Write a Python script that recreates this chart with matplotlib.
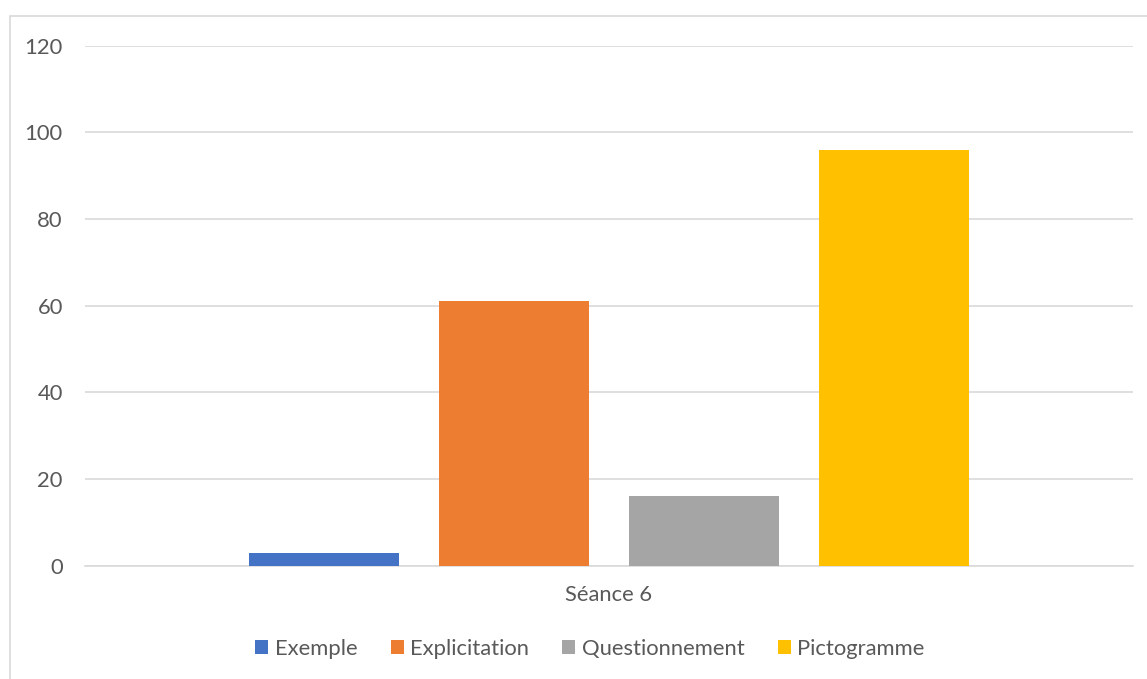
import matplotlib.pyplot as plt
import numpy as np
from matplotlib.patches import Rectangle

# data
categories = ['Séance 6']
series_names = ['Exemple', 'Explicitation', 'Questionnement', 'Pictogramme']
series_values = [3, 61, 16, 96]
series_colors = ['#4472C4', '#ED7D31', '#A5A5A5', '#FFC000']
y_ticks = [0, 20, 40, 60, 80, 100, 120]

text_color = '#595959'
grid_color = '#D9D9D9'

plt.rcParams['font.family'] = ['Lato', 'DejaVu Sans']

fig = plt.figure(figsize=(11.47, 6.79), dpi=100)
W, H = 1147, 679

# light border of the chart area (runs off the right and bottom edges)
fig.patches.append(Rectangle((9.5 / W, -0.1), 1.2, (H - 16) / H + 0.1,
                             transform=fig.transFigure, fill=False,
                             edgecolor=grid_color, linewidth=1.2))

ax = fig.add_axes([85 / W, 113.5 / H, (1133 - 85) / W, 520 / H])

x = np.arange(len(categories))
bar_w = 150 / 1048
step = 190 / 1048
offsets = (np.arange(len(series_names)) - (len(series_names) - 1) / 2) * step

for i, name in enumerate(series_names):
    ax.bar(x + offsets[i], [series_values[i]], width=bar_w,
           color=series_colors[i], label=name, zorder=3)

ax.set_xlim(-0.5, 0.5)
ax.set_ylim(0, 120)
ax.set_yticks(y_ticks)
ax.set_xticks(x)
ax.set_xticklabels(categories)
ax.yaxis.grid(True, color=grid_color, linewidth=1.2, zorder=0)
ax.set_axisbelow(True)

for s in ['top', 'right', 'left']:
    ax.spines[s].set_visible(False)
ax.spines['bottom'].set_color(grid_color)
ax.spines['bottom'].set_linewidth(1.2)

ax.tick_params(axis='both', length=0, labelsize=15.8, labelcolor=text_color)
ax.tick_params(axis='y', pad=16)
ax.tick_params(axis='x', pad=14)

fig.legend(loc='center', bbox_to_anchor=(590 / W, (H - 649) / H), ncol=4,
           frameon=False, fontsize=15.8, labelcolor=text_color,
           handlelength=0.6, handleheight=0.6, handletextpad=0.3,
           columnspacing=1.5)

fig.savefig('out.png', dpi=100)
